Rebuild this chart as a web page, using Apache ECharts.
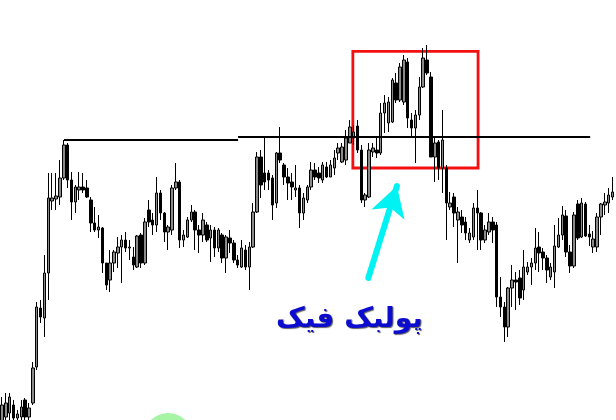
<!DOCTYPE html>
<html>
<head>
<meta charset="utf-8">
<script src="https://cdn.jsdelivr.net/npm/echarts@6/dist/echarts.min.js"></script>
<style>
html,body{margin:0;padding:0;background:#fff;}
#chart{width:616px;height:420px;}
</style>
</head>
<body>
<div id="chart"></div>
<script>
const opens = [-2,3,7,15,2,3,20,3,17,53,112,102,147,219,221,223,242,275,240,218,230,233,232,220,197,190,192,157,140,157,167,173,180,172,163,153,185,157,210,200,195,227,207,188,190,232,238,180,183,200,208,190,185,195,182,190,172,185,162,182,177,160,153,170,153,173,208,263,247,247,242,217,267,255,243,238,230,232,207,220,233,250,247,240,253,243,252,267,258,260,277,282,294,270,220,223,268,270,267,307,297,298,337,320,318,358,300,292,305,333,360,343,263,278,252,252,213,223,200,203,198,180,183,212,207,180,188,198,195,123,113,93,132,140,142,130,148,153,157,173,168,162,143,148,173,185,204,168,154,216,183,216,186,173,173,203,215,217,223];
const closes = [15,17,23,2,6,13,3,12,52,113,103,147,222,222,224,242,275,240,218,233,233,230,223,197,190,193,157,135,157,168,173,180,172,173,155,184,157,198,198,195,227,207,188,193,232,238,180,185,200,208,190,185,200,180,190,172,190,162,183,177,160,155,172,153,173,208,263,235,238,240,215,267,260,243,237,233,232,207,222,233,250,243,242,255,243,255,262,272,273,282,293,288,270,220,225,270,272,267,307,317,318,340,320,353,360,302,292,305,333,362,347,263,277,252,280,217,217,207,208,195,187,187,212,207,180,190,198,190,123,113,93,132,140,138,122,153,153,157,172,167,162,150,153,174,185,205,168,154,205,182,217,184,183,181,203,216,218,225,228];
const lows = [-5,0,0,-2,-3,0,0,0,15,50,97,83,120,210,210,215,240,232,200,207,220,227,222,188,188,182,147,130,128,148,152,137,168,160,150,152,152,155,193,185,188,200,178,170,185,230,172,173,182,198,170,167,178,178,158,163,168,157,147,167,157,152,152,150,130,172,207,222,230,230,200,212,257,235,220,220,223,192,200,217,230,240,237,237,242,243,245,260,257,255,277,275,267,217,213,222,263,262,265,287,288,297,317,318,315,292,282,257,300,332,345,263,238,240,227,180,210,193,157,187,180,177,180,170,170,177,185,177,113,103,78,83,113,110,115,120,145,135,150,148,150,137,140,132,172,180,163,147,152,180,182,183,174,167,168,185,205,207,220];
const highs = [23,27,27,20,10,20,22,17,58,118,120,165,247,247,247,260,280,277,248,235,248,247,240,223,213,205,193,157,170,170,183,185,188,180,173,185,187,202,220,207,243,230,208,195,235,257,240,190,203,215,210,195,207,198,195,193,192,187,185,190,180,165,180,175,178,217,268,270,282,250,245,268,293,257,252,247,255,235,227,235,258,257,253,258,258,260,270,277,277,290,300,295,300,275,227,277,277,283,317,325,323,342,347,357,365,362,307,310,343,372,375,348,283,280,310,255,228,227,213,210,203,192,217,230,208,195,207,203,198,143,118,133,155,148,150,170,158,162,192,188,172,165,157,195,202,214,210,175,208,220,222,218,195,189,207,217,227,232,243];
const categories = opens.map((_, i) => String(i));
const candles = opens.map((o, i) => [o, closes[i], lows[i], highs[i]]);

const chart = echarts.init(document.getElementById('chart'), null, {renderer: 'canvas'});
chart.setOption({
  animation: false,
  backgroundColor: '#ffffff',
  grid: {left: 0, right: 1.5, top: 0, bottom: 0},
  xAxis: [
    {type: 'category', data: categories, show: false, boundaryGap: true},
    {type: 'value', min: -0.5, max: categories.length - 0.5, show: false}
  ],
  yAxis: [{type: 'value', min: 0, max: 420, show: false}],
  series: [
    {
      type: 'candlestick',
      xAxisIndex: 0,
      data: candles,
      barWidth: 3,
      silent: true,
      itemStyle: {color: '#8a8a8a', color0: '#000000', borderColor: '#000000', borderColor0: '#000000', borderWidth: 1}
    },
    {
      type: 'scatter',
      xAxisIndex: 1,
      data: [[43, -18]],
      symbolSize: 50,
      clip: false,
      silent: true,
      itemStyle: {color: '#8ef28e'}
    },
    {
      type: 'scatter',
      xAxisIndex: 1,
      data: [],
      silent: true,
      markLine: {
        silent: true,
        symbol: 'none',
        label: {show: false},
        lineStyle: {color: '#000000', width: 2, type: 'solid'},
        data: [
          [{coord: [16.06, 280.5]}, {coord: [61.1, 280.5]}],
          [{coord: [61.1, 283]}, {coord: [152.2, 283]}]
        ]
      },
      markArea: {
        silent: true,
        itemStyle: {color: 'rgba(0,0,0,0)', borderColor: '#f41010', borderWidth: 2.8},
        data: [[{coord: [90.8, 368.7]}, {coord: [123.2, 252]}]]
      }
    },
    {
      type: 'scatter',
      xAxisIndex: 1,
      data: [],
      silent: true,
      markLine: {
        silent: true,
        label: {show: false},
        lineStyle: {color: '#00f2f2', width: 6, type: 'solid', cap: 'round'},
        data: [
          [{coord: [94.8, 142], symbol: 'none'}, {coord: [102.2, 234], symbol: 'arrow', symbolSize: [26, 30]}]
        ]
      }
    }
  ],
  graphic: [
    {
      type: 'text',
      left: 276,
      top: 306,
      silent: true,
      style: {
        text: 'پولبک فیک',
        font: 'bold 28px "DejaVu Sans"',
        fill: '#0c0cd0',
        textShadowColor: 'rgba(40,40,40,0.75)',
        textShadowOffsetX: 1,
        textShadowOffsetY: 1,
        textShadowBlur: 1
      }
    }
  ]
});
</script>
</body>
</html>
